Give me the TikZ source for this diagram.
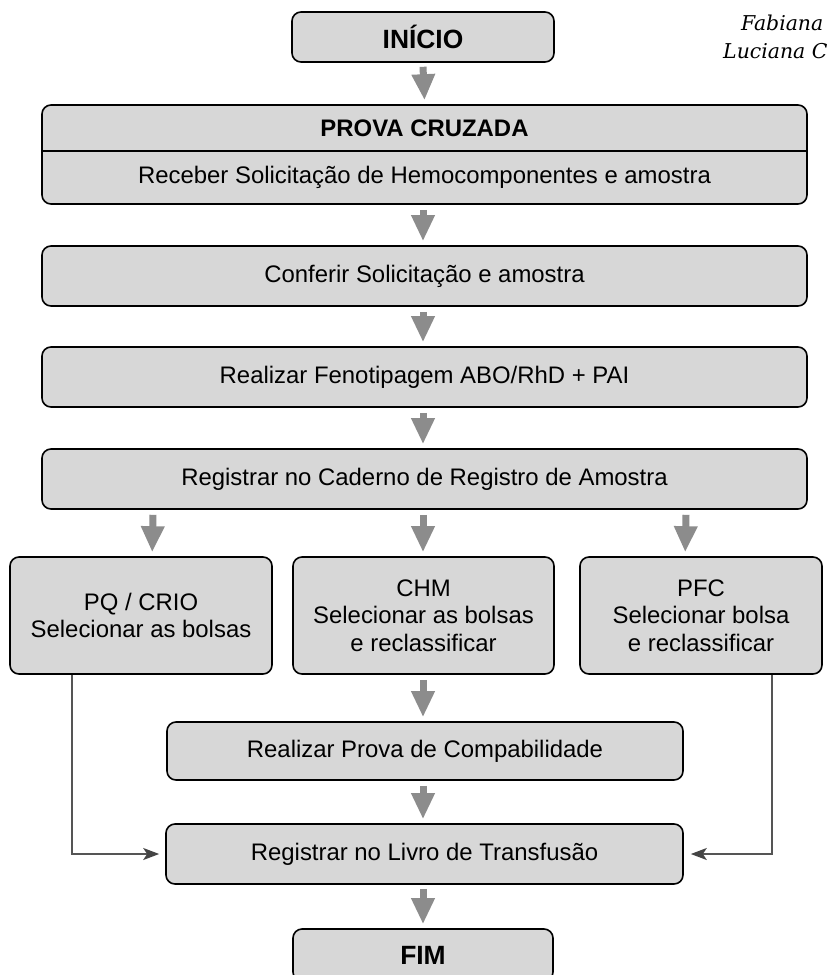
\documentclass[tikz,border=0pt]{standalone}
\usepackage{fontspec}
\setmainfont{Liberation Sans}
\newfontfamily\authorfont{DejaVu Serif}
\usetikzlibrary{arrows.meta,calc}
\definecolor{boxfill}{HTML}{D7D7D7}
\definecolor{blockarrow}{HTML}{8C8C8C}
\definecolor{connline}{HTML}{555555}
\definecolor{conntip}{HTML}{444444}
\tikzset{
  flowbox/.style={draw=black, fill=boxfill, line width=1.6bp, rounded corners=9bp,
    align=center, inner sep=0pt, font=\fontsize{24}{27.5}\selectfont},
  termbox/.style={flowbox, font=\fontsize{26.5}{30}\selectfont\bfseries},
  blockarr/.style={draw=blockarrow, line width=7bp, -{Triangle[width=22bp,length=26bp]}},
  conn/.style={draw=connline, line width=2bp, -{Stealth[length=16bp,width=12bp,inset=4bp,color=conntip]}},
  authortext/.style={anchor=base west, inner sep=0pt, font=\authorfont\itshape\fontsize{20.5}{25}\selectfont}
}
\begin{document}
\begin{tikzpicture}[x=1bp,y=-1bp]
\clip (0,0) rectangle (832,975);
\useasboundingbox (0,0) rectangle (832,975);

% author names
\node[authortext] (auth1) at (741,30) {Fabiana};
\node[authortext] (auth2) at (723,58) {Luciana C};

% nodes
\node[termbox, minimum width=262bp, minimum height=50bp] (inicio) at (423,37) {INÍCIO};
\node[flowbox, minimum width=765bp, minimum height=99bp] (prova) at (424.5,154.5) {};
\draw[line width=1.6bp] (prova.west |- 0,151) -- (prova.east |- 0,151);
\node[font=\fontsize{24}{27.5}\selectfont\bfseries] (provat) at (424.5,128) {PROVA CRUZADA};
\node[font=\fontsize{24}{27.5}\selectfont] (receber) at (424.5,177.5) {Receber Solicitação de Hemocomponentes e amostra};

\node[flowbox, minimum width=765bp, minimum height=60bp] (conf) at (424.5,276) {Conferir Solicitação e amostra};
\node[flowbox, minimum width=765bp, minimum height=60bp] (feno) at (424.5,377) {Realizar Fenotipagem ABO/RhD + PAI};
\node[flowbox, minimum width=765bp, minimum height=60bp] (cad) at (424.5,479) {Registrar no Caderno de Registro de Amostra};

\node[flowbox, minimum width=262bp, minimum height=117bp] (pq) at (141,615.5) {PQ / CRIO\\Selecionar as bolsas};
\node[flowbox, minimum width=261bp, minimum height=117bp] (chm) at (423.5,615.5) {CHM\\Selecionar as bolsas\\e reclassificar};
\node[flowbox, minimum width=242bp, minimum height=117bp] (pfc) at (701,615.5) {PFC\\Selecionar bolsa\\e reclassificar};

\node[flowbox, minimum width=516bp, minimum height=58bp] (comp) at (425,751) {Realizar Prova de Compabilidade};
\node[flowbox, minimum width=517bp, minimum height=60bp] (livro) at (424.5,854) {Registrar no Livro de Transfusão};
\node[termbox, minimum width=260bp, minimum height=52bp] (fim) at (423,955) {FIM};

% block arrows
\draw[blockarr] ($(inicio.south)+(0,4)$) -- ($(prova.north)+(0,-4)$);
\draw[blockarr] ($(prova.south)+(-1.5,5)$) -- ($(conf.north)+(-1.5,-4)$);
\draw[blockarr] ($(conf.south)+(-1.5,5)$) -- ($(feno.north)+(-1.5,-4)$);
\draw[blockarr] ($(feno.south)+(-1.5,5)$) -- ($(cad.north)+(-1.5,-4)$);
\draw[blockarr] ($(cad.south)+(-271.5,5)$) -- ($(pq.north west)+(143,-4)$);
\draw[blockarr] ($(cad.south)+(-1.5,5)$) -- ($(chm.north)+(-0.5,-4)$);
\draw[blockarr] ($(cad.south)+(261.5,5)$) -- ($(pfc.north west)+(106,-4)$);
\draw[blockarr] ($(chm.south)+(-0.5,5)$) -- ($(comp.north)+(-2,-4)$);
\draw[blockarr] ($(comp.south)+(-2,5)$) -- ($(livro.north)+(-1.5,-4)$);
\draw[blockarr] ($(livro.south)+(-1.5,4)$) -- ($(fim.north)+(0,-4)$);

% connectors
\draw[conn] ($(pq.south west)+(63,0)$) |- ($(livro.west)+(-6,0)$);
\draw[conn] ($(pfc.south west)+(193,0)$) |- ($(livro.east)+(7,0)$);
\end{tikzpicture}
\end{document}
